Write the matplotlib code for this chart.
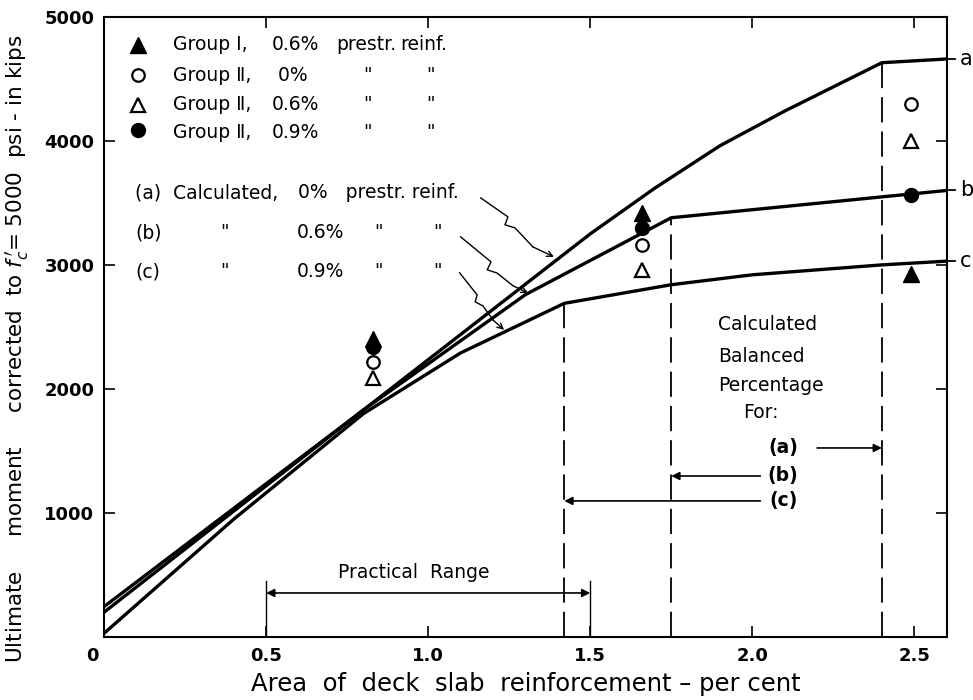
import numpy as np
import matplotlib.pyplot as plt
from matplotlib.transforms import ScaledTranslation

plt.rcParams['font.family'] = ['DejaVu Sans']

# calculated curves, area of reinforcement (per cent) vs ultimate moment (kips)
a_x = [0, 0.8, 1.5, 1.7, 1.9, 2.1, 2.4, 2.6]
a_y = [200, 1830, 3250, 3620, 3960, 4240, 4630, 4660]
b_x = [0, 0.8, 1.3, 1.75, 2.6]
b_y = [245, 1830, 2760, 3380, 3600]
c_x = [0, 0.4, 0.8, 1.1, 1.42, 1.75, 2.0, 2.4, 2.6]
c_y = [30, 950, 1800, 2290, 2690, 2840, 2920, 3000, 3030]

# calculated balanced percentages for (a), (b), (c)
bal_pct = [2.40, 1.75, 1.42]

# test results
test_x = [0.83, 1.66, 2.49]
g1_06 = [2400, 3420, 2930]   # Group I, 0.6% prestr. reinf.
g2_00 = [2220, 3160, 4300]   # Group II, 0%
g2_06 = [2090, 2960, 4000]   # Group II, 0.6%
g2_09 = [2340, 3300, 3560]   # Group II, 0.9%

practical = [0.5, 1.5]

fig = plt.figure(figsize=(9.73, 7.0), dpi=100)
ax = fig.add_axes([0.107, 0.09, 0.866, 0.886])

lw_curve = 2.4
for xs, ys, name in [(a_x, a_y, 'a'), (b_x, b_y, 'b'), (c_x, c_y, 'c')]:
    ax.plot(xs, ys, color='k', lw=lw_curve, solid_joinstyle='round')
    ax.plot([xs[-1], xs[-1] + 0.025], [ys[-1], ys[-1]], color='k', lw=1.3, clip_on=False)
    ax.text(xs[-1] + 0.04, ys[-1], name, fontsize=15, va='center', ha='left')

# dashed verticals up to the kink of each curve
for p, xs, ys in zip(bal_pct, [a_x, b_x, c_x], [a_y, b_y, c_y]):
    ax.plot([p, p], [0, np.interp(p, xs, ys)], color='k', lw=1.3, ls=(0, (14, 5)))

# markers
ms = 10
ax.plot(test_x, g2_09, 'o', color='k', ms=ms)
ax.plot(test_x, g1_06, '^', color='k', ms=ms + 1)
ax.plot(test_x, g2_00, 'o', mfc='white', mec='k', mew=1.6, ms=ms - 1)
ax.plot(test_x, g2_06, '^', mfc='white', mec='k', mew=1.6, ms=ms)

# legend block (axes coordinates)
fs = 13.5
rows = [0.955, 0.906, 0.858, 0.813]
ax.plot(0.040, rows[0], '^', color='k', ms=ms + 1, transform=ax.transAxes)
ax.plot(0.040, rows[1], 'o', mfc='white', mec='k', mew=1.6, ms=ms - 1, transform=ax.transAxes)
ax.plot(0.040, rows[2], '^', mfc='white', mec='k', mew=1.6, ms=ms, transform=ax.transAxes)
ax.plot(0.040, rows[3] + 0.005, 'o', color='k', ms=ms, transform=ax.transAxes)
groups = ['Group \u2160,', 'Group \u2161,', 'Group \u2161,', 'Group \u2161,']
pcts = ['0.6%', ' 0%', '0.6%', '0.9%']
for i, y in enumerate(rows):
    ax.text(0.082, y, groups[i], fontsize=fs, va='center', transform=ax.transAxes)
    ax.text(0.199, y, pcts[i], fontsize=fs, va='center', transform=ax.transAxes)
    if i == 0:
        ax.text(0.276, y, 'prestr.', fontsize=fs, va='center', transform=ax.transAxes)
        ax.text(0.351, y, 'reinf.', fontsize=fs, va='center', transform=ax.transAxes)
    else:
        ax.text(0.313, y, '"', fontsize=fs, va='center', ha='center', transform=ax.transAxes)
        ax.text(0.387, y, '"', fontsize=fs, va='center', ha='center', transform=ax.transAxes)

# calculated-curve key
rows2 = [0.716, 0.652, 0.589]
ax.text(0.037, rows2[0], '(a)  Calculated,', fontsize=fs, va='center', transform=ax.transAxes)
ax.text(0.230, rows2[0], '0%   prestr. reinf.', fontsize=fs, va='center', transform=ax.transAxes)
for y, lab, pct in [(rows2[1], '(b)', '0.6%'), (rows2[2], '(c)', '0.9%')]:
    ax.text(0.037, y, lab, fontsize=fs, va='center', transform=ax.transAxes)
    ax.text(0.143, y, '"', fontsize=fs, va='center', ha='center', transform=ax.transAxes)
    ax.text(0.229, y, pct, fontsize=fs, va='center', transform=ax.transAxes)
    ax.text(0.326, y, '"', fontsize=fs, va='center', ha='center', transform=ax.transAxes)
    ax.text(0.396, y, '"', fontsize=fs, va='center', ha='center', transform=ax.transAxes)

# wavy leaders from the key to the curves
leaders = [
    [(1.162, 3540), (1.246, 3387), (1.237, 3323), (1.268, 3298), (1.323, 3145), (1.388, 3065)],
    [(1.100, 3226), (1.194, 3024), (1.182, 2960), (1.212, 2935), (1.262, 2831), (1.308, 2774)],
    [(1.097, 2936), (1.151, 2758), (1.145, 2702), (1.169, 2669), (1.200, 2556), (1.234, 2476)],
]
for pts in leaders:
    xs, ys = zip(*pts)
    ax.plot(xs[:-1], ys[:-1], color='k', lw=1.0)
    ax.annotate('', xy=pts[-1], xytext=pts[-2],
                arrowprops=dict(arrowstyle='->', lw=1.0, color='k', shrinkA=0, shrinkB=0))

# balanced percentage notes
for txt, y in [('Calculated', 2516), ('Balanced', 2258), ('Percentage', 2024)]:
    ax.text(1.895, y, txt, fontsize=fs, va='center')
ax.text(1.972, 1806, 'For:', fontsize=fs, va='center')
bal_y = [1524, 1298, 1097]
for lab, p, y in zip(['(a)', '(b)', '(c)'], bal_pct, bal_y):
    ax.text(2.095, y, lab, fontsize=fs, fontweight='bold', va='center', ha='center')
    start = 2.20 if p > 2.1 else 2.025
    ax.annotate('', xy=(p, y), xytext=(start, y),
                arrowprops=dict(arrowstyle='-|>', lw=1.2, color='k', mutation_scale=12,
                                shrinkA=0, shrinkB=0))

# practical range
ax.plot([practical[0]] * 2, [0, 450], color='k', lw=1.0)
ax.plot([practical[1]] * 2, [0, 450], color='k', lw=1.0)
ax.annotate('', xy=(practical[0], 355), xytext=(practical[1], 355),
            arrowprops=dict(arrowstyle='<|-|>', lw=1.2, color='k', mutation_scale=12,
                            shrinkA=0, shrinkB=0))
ax.text(0.955, 520, 'Practical  Range', fontsize=fs, ha='center', va='center')

ax.set_xlim(0, 2.6)
ax.set_ylim(0, 5000)
ax.set_xticks([0, 0.5, 1.0, 1.5, 2.0, 2.5])
ax.set_xticklabels(['0', '0.5', '1.0', '1.5', '2.0', '2.5'])
ax.set_yticks([1000, 2000, 3000, 4000, 5000])
ax.tick_params(direction='in', length=8, width=1.2, top=True, right=True, labelsize=13, pad=7)
for lbl in ax.get_xticklabels() + ax.get_yticklabels():
    lbl.set_fontweight('bold')
# the origin label sits a little left of the corner
zero_lbl = ax.get_xticklabels()[0]
zero_lbl.set_transform(zero_lbl.get_transform() + ScaledTranslation(-0.12, 0, fig.dpi_scale_trans))
for sp in ax.spines.values():
    sp.set_linewidth(1.5)

ax.set_xlabel('Area  of  deck  slab  reinforcement \u2013 per cent', fontsize=17.5, labelpad=5)
ax.set_ylabel(r"Ultimate     moment     corrected  to $f^{\,\prime}_{c}$= 5000  psi - in kips",
              fontsize=15.5)
ax.yaxis.set_label_coords(-0.087, 0.465)

fig.savefig('out.png', dpi=100)
